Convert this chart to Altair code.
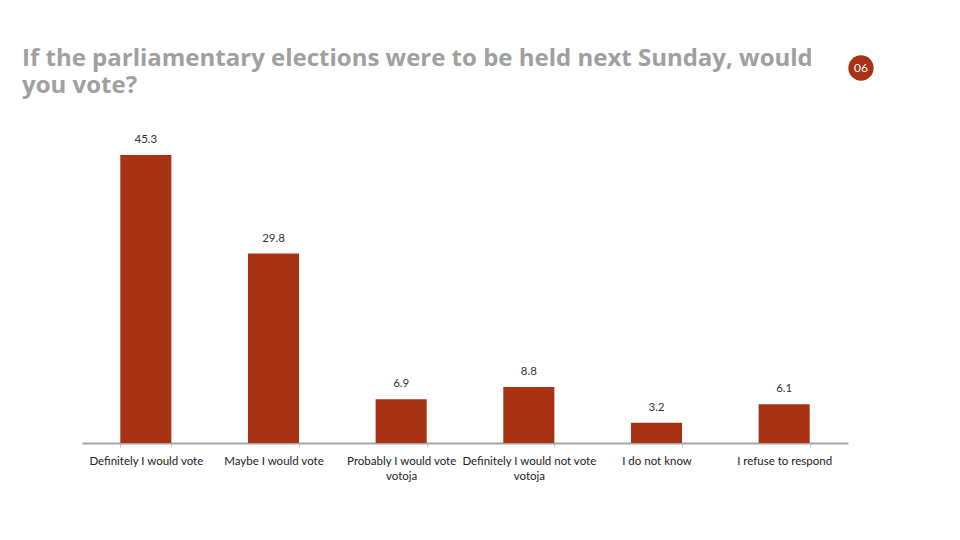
import altair as alt
import pandas as pd

categories = [
    "Definitely I would vote",
    "Maybe I would vote",
    "Probably I would vote|votoja",
    "Definitely I would not vote|votoja",
    "I do not know",
    "I refuse to respond",
]
values = [45.3, 29.8, 6.9, 8.8, 3.2, 6.1]
title_lines = [
    "If the parliamentary elections were to be held next Sunday, would",
    "you vote?",
]
badge = "06"

df = pd.DataFrame({"cat": categories, "val": values})
BAR = "#A83214"
FONT = "Lato"
TFONT = "Open Sans"

x = alt.X(
    "cat:N",
    sort=categories,
    title=None,
    scale=alt.Scale(paddingInner=0.6, paddingOuter=0.3),
    axis=alt.Axis(
        labelAngle=0,
        labelExpr="split(datum.label, '|')",
        labelFont=FONT,
        labelFontSize=11.5,
        labelColor="#222222",
        labelPadding=8,
        labelLineHeight=15,
        domainColor="#A6A6A6",
        domainWidth=2,
        tickColor="#CCCCCC",
        tickSize=4,
        tickBand="extent",
        labelLimit=200,
    ),
)
y = alt.Y("val:Q", scale=alt.Scale(domain=[0, 47.2]), axis=None)

base = alt.Chart(df)
bars = base.mark_bar(color=BAR).encode(x=x, y=y)
labels = base.mark_text(font=FONT, fontSize=11.5, color="#333333", baseline="middle", dy=-15).encode(
    x=x, y=y, text=alt.Text("val:Q", format=".1f")
)

tdf = pd.DataFrame({"t": title_lines, "i": [0, 1]})
title = alt.Chart(tdf).mark_text(
    font=TFONT, fontSize=24, fontWeight="bold", color="#A0A0A0", align="left", baseline="alphabetic"
).encode(
    x=alt.value(-60),
    y=alt.Y("i:Q", scale=alt.Scale(domain=[0, 1], range=[-77, -50]), axis=None),
    text="t:N",
)

bdf = pd.DataFrame({"b": [badge]})
circle = alt.Chart(bdf).mark_circle(color=BAR, opacity=1, size=640).encode(
    x=alt.value(779), y=alt.value(-75)
)
btext = alt.Chart(bdf).mark_text(font=FONT, fontSize=12, color="white", baseline="middle").encode(
    x=alt.value(779), y=alt.value(-75), text="b:N"
)

chart = (
    alt.layer(bars, labels, title, circle, btext)
    .resolve_scale(y="independent")
    .properties(
        width=766,
        height=300,
        autosize=alt.AutoSizeParams(type="none"),
        padding={"left": 82, "top": 143, "right": 112, "bottom": 97},
    )
    .configure(background="white")
    .configure_view(stroke="transparent", strokeWidth=0)
)

chart.save("out.html", embed_options={"renderer": "svg", "actions": False})
